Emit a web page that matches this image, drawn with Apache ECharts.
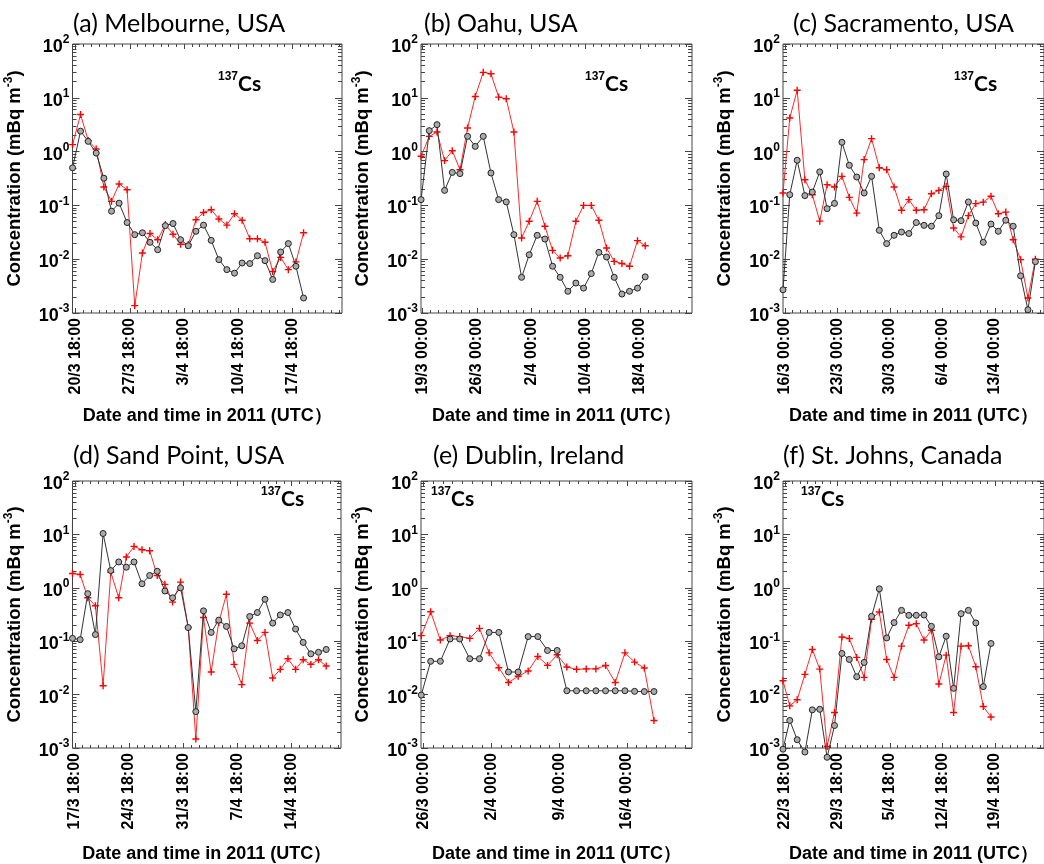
<!DOCTYPE html>
<html><head><meta charset="utf-8">
<script src="https://cdn.jsdelivr.net/npm/echarts@6/dist/echarts.min.js"></script>
<style>html,body{margin:0;padding:0;background:#fff}#c{width:1044px;height:864px}</style>
</head><body><div id="c"></div>
<script>
// ---------------- DATA ----------------
const panelTitles = ['(a) Melbourne, USA','(b) Oahu, USA','(c) Sacramento, USA','(d) Sand Point, USA','(e) Dublin, Ireland','(f) St. Johns, Canada'];
const xAxisTitle = 'Date and time in 2011 (UTC\uFF09';
const yAxisTitle = 'Concentration (mBq m';
const yTickExponents = [-3,-2,-1,0,1,2];

const tickLabelsA = ['20/3 18:00','27/3 18:00','3/4 18:00','10/4 18:00','17/4 18:00'];
const tickLabelsB = ['19/3 00:00','26/3 00:00','2/4 00:00','10/4 00:00','18/4 00:00'];
const tickLabelsC = ['16/3 00:00','23/3 00:00','30/3 00:00','6/4 00:00','13/4 00:00'];
const tickLabelsD = ['17/3 18:00','24/3 18:00','31/3 18:00','7/4 18:00','14/4 18:00'];
const tickLabelsE = ['26/3 00:00','2/4 00:00','9/4 00:00','16/4 00:00'];
const tickLabelsF = ['22/3 18:00','29/3 18:00','5/4 18:00','12/4 18:00','19/4 18:00'];
const tickDays5 = [0,7,14,21,28];
const tickDays4 = [0,7,14,21];

// day offsets (days after first labelled tick)
const daysA = [-0.39,0.64,1.63,2.66,3.65,4.64,5.62,6.65,7.64,8.63,9.61,10.6,11.59,12.58,13.56,14.55,15.54,16.52,17.51,18.5,19.53,20.52,21.5,22.49,23.48,24.46,25.45,26.48,27.47,28.45,29.44];
const blackA = [0.5,2.4,1.55,0.94,0.32,0.078,0.11,0.048,0.0286,0.031,0.0206,0.015,0.042,0.046,0.023,0.0178,0.033,0.043,0.0224,0.0098,0.0064,0.0055,0.0085,0.0083,0.0116,0.0094,0.0042,0.0136,0.0195,0.0074,0.0019];
const redA   = [1.35,4.9,1.6,1.12,0.22,0.119,0.25,0.196,0.00137,0.013,0.030,0.023,0.044,0.029,0.019,0.0187,0.054,0.074,0.083,0.056,0.043,0.070,0.053,0.024,0.024,0.0206,0.0059,0.0108,0.0064,0.0089,0.031];

const daysB = [-0.2,0.86,1.85,2.83,3.82,4.81,5.79,6.78,7.81,8.8,9.79,10.77,11.76,12.75,13.73,14.76,15.75,16.74,17.72,18.71,19.74,20.73,21.72,22.7,23.69,24.68,25.67,26.65,27.68,28.67];
const blackB = [0.128,2.45,3.17,0.19,0.41,0.39,1.92,1.25,1.92,0.40,0.128,0.116,0.0286,0.0046,0.0121,0.0278,0.0237,0.0074,0.0046,0.00253,0.0036,0.0029,0.0054,0.0134,0.011,0.0046,0.00225,0.00253,0.0029,0.0047];
const redB   = [0.82,1.92,2.31,0.68,1.04,0.46,2.75,10.6,29.7,28,10.3,9.6,2.31,0.0248,0.0506,0.119,0.041,0.0146,0.0105,0.0116,0.0506,0.100,0.100,0.053,0.0161,0.0091,0.0083,0.0074,0.0221,0.0178];

const daysC = [-0.26,0.64,1.63,2.66,3.65,4.64,5.62,6.61,7.6,8.58,9.57,10.56,11.55,12.58,13.56,14.55,15.54,16.52,17.51,18.54,19.53,20.52,21.5,22.49,23.48,24.46,25.45,26.44,27.47,28.45,29.44,30.43,31.42,32.4,33.39];
const blackC = [0.0027,0.158,0.69,0.152,0.177,0.42,0.087,0.109,1.49,0.556,0.337,0.17,0.347,0.0344,0.0195,0.0278,0.032,0.030,0.048,0.0426,0.041,0.0645,0.384,0.054,0.052,0.116,0.047,0.0206,0.045,0.033,0.053,0.041,0.0049,0.00115,0.009];
const redC   = [0.17,4.2,13.8,0.30,0.158,0.051,0.243,0.22,0.347,0.141,0.072,0.71,1.74,0.50,0.46,0.22,0.081,0.128,0.081,0.083,0.165,0.19,0.226,0.038,0.026,0.0645,0.108,0.115,0.148,0.070,0.075,0.023,0.0098,0.0019,0.01];

const daysD = [-0.3,0.69,1.67,2.66,3.65,4.64,5.67,6.65,7.64,8.67,9.66,10.64,11.63,12.62,13.65,14.64,15.62,16.61,17.6,18.58,19.57,20.56,21.55,22.58,23.56,24.55,25.54,26.52,27.51,28.5,29.48,30.47,31.46,32.45];
const blackD = [0.113,0.107,0.776,0.133,10.4,2.1,3.05,2.43,3.05,1.19,1.7,2.04,0.87,0.65,1.0,0.18,0.0048,0.37,0.146,0.248,0.189,0.072,0.082,0.29,0.344,0.61,0.218,0.31,0.344,0.169,0.095,0.058,0.062,0.070];
const redD   = [1.85,1.78,0.65,0.46,0.0146,1.96,0.65,3.77,5.96,5.17,4.94,1.7,1.16,0.54,1.28,0.18,0.00147,0.278,0.0265,0.224,0.755,0.0368,0.0154,0.218,0.103,0.146,0.0205,0.0297,0.0469,0.0297,0.0449,0.0368,0.0449,0.0343];

const daysE = [-0.25,0.72,1.72,2.72,3.72,4.76,5.76,6.76,7.76,8.76,9.76,10.79,11.79,12.79,13.79,14.79,15.79,16.79,17.79,18.79,19.79,20.79,21.79,22.79,23.79];
const blackE = [0.0098,0.042,0.042,0.11,0.11,0.047,0.047,0.146,0.146,0.0265,0.0265,0.122,0.122,0.067,0.067,0.0118,0.0118,0.0118,0.0118,0.0118,0.0118,0.0118,0.0115,0.0114,0.0114];
const redE   = [0.127,0.355,0.105,0.127,0.122,0.113,0.174,0.0605,0.0319,0.0168,0.022,0.0277,0.0518,0.0352,0.0556,0.0328,0.0297,0.0303,0.0303,0.035,0.0168,0.0605,0.0406,0.0315,0.00327];

const daysF = [-0.26,0.64,1.63,2.66,3.65,4.64,5.62,6.61,7.6,8.58,9.57,10.56,11.55,12.58,13.56,14.55,15.54,16.52,17.51,18.54,19.53,20.52,21.5,22.49,23.48,24.46,25.45,26.44,27.47];
const blackF = [0.00095,0.00328,0.00143,0.00084,0.00518,0.0053,0.00067,0.00264,0.0589,0.0455,0.0216,0.04,0.292,0.957,0.115,0.223,0.378,0.305,0.305,0.31,0.19,0.051,0.124,0.0131,0.328,0.378,0.22,0.0141,0.0906];
const redF   = [0.0182,0.00615,0.008,0.0239,0.07,0.030,0.00107,0.00462,0.12,0.112,0.0497,0.021,0.257,0.352,0.0455,0.021,0.0807,0.199,0.213,0.105,0.16,0.0158,0.0548,0.00462,0.0807,0.082,0.0333,0.006,0.0038];

// ---------------- LAYOUT ----------------
const panels = [
  {labels:tickLabelsA, ticks:tickDays5, days:daysA, black:blackA, red:redA, left:72,  top:44,  width:270, height:269, min:-0.4,  max:34.4,  tx:73,  ty:11,  cx:218, cy:71,  ng:94},
  {labels:tickLabelsB, ticks:tickDays5, days:daysB, black:blackB, red:redB, left:421, top:44,  width:271, height:269, min:-0.21, max:34.7,  tx:424, ty:11,  cx:585, cy:71,  ng:94},
  {labels:tickLabelsC, ticks:tickDays5, days:daysC, black:blackC, red:redC, left:783, top:44,  width:270, height:269, min:-0.26, max:34.54, tx:793, ty:11,  cx:954, cy:71,  ng:94},
  {labels:tickLabelsD, ticks:tickDays5, days:daysD, black:blackD, red:redD, left:72,  top:481, width:269, height:269, min:-0.3,  max:34.36, tx:73,  ty:443, cx:261, cy:486, ng:97},
  {labels:tickLabelsE, ticks:tickDays4, days:daysE, black:blackE, red:redE, left:421, top:481, width:271, height:268, min:-0.28, max:27.72, tx:433, ty:443, cx:431, cy:486, ng:97},
  {labels:tickLabelsF, ticks:tickDays5, days:daysF, black:blackF, red:redF, left:783, top:481, width:270, height:268, min:-0.26, max:34.54, tx:783, ty:443, cx:801, cy:486, ng:97}
];

const AX = '#444';
const FONT = "'Liberation Sans', Arial, sans-serif";
function intRange(a,b){const r=[];for(let d=Math.ceil(a);d<=b;d++)r.push(d);return r;}
const yMinorVals=[];for(let d=-3;d<2;d++){for(let k=2;k<=9;k++)yMinorVals.push(d+Math.log10(k));}

const grids=[],xAxes=[],yAxes=[],series=[],titles=[];
panels.forEach((p,i)=>{
  grids.push({left:p.left,top:p.top,width:p.width,height:p.height,show:true,borderColor:AX,borderWidth:1,backgroundColor:'transparent'});
  const minor=intRange(p.min,p.max);
  const baseX={type:'value',gridIndex:i,min:p.min,max:p.max,splitLine:{show:false},axisLine:{show:false,onZero:false}};
  xAxes.push(Object.assign({},baseX,{position:'bottom',
    axisTick:{show:true,inside:true,length:5,customValues:p.ticks,lineStyle:{color:AX}},
    axisLabel:{show:true,customValues:p.ticks,rotate:90,margin:5,fontFamily:FONT,fontWeight:'bold',fontSize:16,color:'#000',
      formatter:(v)=>p.labels[p.ticks.indexOf(v)]||''},
    name:xAxisTitle,nameLocation:'middle',nameGap:p.ng,nameTextStyle:{fontFamily:FONT,fontWeight:'bold',fontSize:18,color:'#000'}}));
  xAxes.push(Object.assign({},baseX,{position:'bottom',axisLabel:{show:false},axisTick:{show:true,inside:true,length:3,customValues:minor,lineStyle:{color:AX}}}));
  xAxes.push(Object.assign({},baseX,{position:'top',axisLabel:{show:false},axisTick:{show:true,inside:true,length:5,customValues:p.ticks,lineStyle:{color:AX}}}));
  xAxes.push(Object.assign({},baseX,{position:'top',axisLabel:{show:false},axisTick:{show:true,inside:true,length:3,customValues:minor,lineStyle:{color:AX}}}));

  yAxes.push({type:'log',gridIndex:i,logBase:10,min:0.001,max:100,show:false});
  const baseY={type:'value',gridIndex:i,min:-3,max:2,splitLine:{show:false},axisLine:{show:false,onZero:false}};
  yAxes.push(Object.assign({},baseY,{position:'left',interval:1,
    axisTick:{show:true,inside:true,length:7,lineStyle:{color:AX}},
    axisLabel:{show:true,margin:3,formatter:(v)=>'{b|10}{s|'+v+'}',
      rich:{b:{fontFamily:FONT,fontWeight:'bold',fontSize:18,color:'#000',lineHeight:20,padding:[6,0,0,0]},
            s:{fontFamily:FONT,fontWeight:'bold',fontSize:12,color:'#000',lineHeight:12,verticalAlign:'top'}}},
    name:'{n|'+yAxisTitle+'}{s|-3}{n|)}',nameLocation:'middle',nameGap:50,
    nameTextStyle:{rich:{n:{fontFamily:FONT,fontWeight:'bold',fontSize:18.5,color:'#000',lineHeight:20,padding:[4,0,0,0]},
                          s:{fontFamily:FONT,fontWeight:'bold',fontSize:12,color:'#000',lineHeight:12,verticalAlign:'top'}}}}));
  yAxes.push(Object.assign({},baseY,{position:'left',axisLabel:{show:false},axisTick:{show:true,inside:true,length:4,customValues:yMinorVals,lineStyle:{color:AX}}}));
  yAxes.push(Object.assign({},baseY,{position:'right',interval:1,axisLabel:{show:false},axisTick:{show:true,inside:true,length:7,lineStyle:{color:AX}}}));
  yAxes.push(Object.assign({},baseY,{position:'right',axisLabel:{show:false},axisTick:{show:true,inside:true,length:4,customValues:yMinorVals,lineStyle:{color:AX}}}));

  const xi=i*4, yi=i*5;
  series.push({type:'line',xAxisIndex:xi,yAxisIndex:yi,clip:false,data:p.days.map((d,k)=>[d,p.red[k]]),
    symbol:'path://M4,0H6V4H10V6H6V10H4V6H0V4H4Z',symbolSize:7,showSymbol:true,
    lineStyle:{color:'#ff2a2a',width:1},itemStyle:{color:'#ff0000'},emphasis:{disabled:true},z:2});
  series.push({type:'line',xAxisIndex:xi,yAxisIndex:yi,clip:false,data:p.days.map((d,k)=>[d,p.black[k]]),
    symbol:'circle',symbolSize:6,showSymbol:true,
    lineStyle:{color:'#333',width:1},itemStyle:{color:'#aaa',borderColor:'#222',borderWidth:1},emphasis:{disabled:true},z:3});

  titles.push({text:panelTitles[i],left:p.tx,top:p.ty,padding:0,textStyle:{fontFamily:'Lato, sans-serif',fontWeight:'normal',fontSize:25,color:'#000'}});
  titles.push({text:'{s|137}{c|Cs}',left:p.cx,top:p.cy,padding:0,textStyle:{rich:{
    s:{fontFamily:FONT,fontWeight:'bold',fontSize:12,color:'#000',lineHeight:12,verticalAlign:'top'},
    c:{fontFamily:'Lato, sans-serif',fontWeight:'bold',fontSize:21,color:'#000',lineHeight:22,padding:[4,0,0,0]}}}});
});

const chart=echarts.init(document.getElementById('c'),null,{renderer:'canvas'});
chart.setOption({animation:false,backgroundColor:'#fff',title:titles,grid:grids,xAxis:xAxes,yAxis:yAxes,series:series,tooltip:{show:false}});
</script></body></html>
